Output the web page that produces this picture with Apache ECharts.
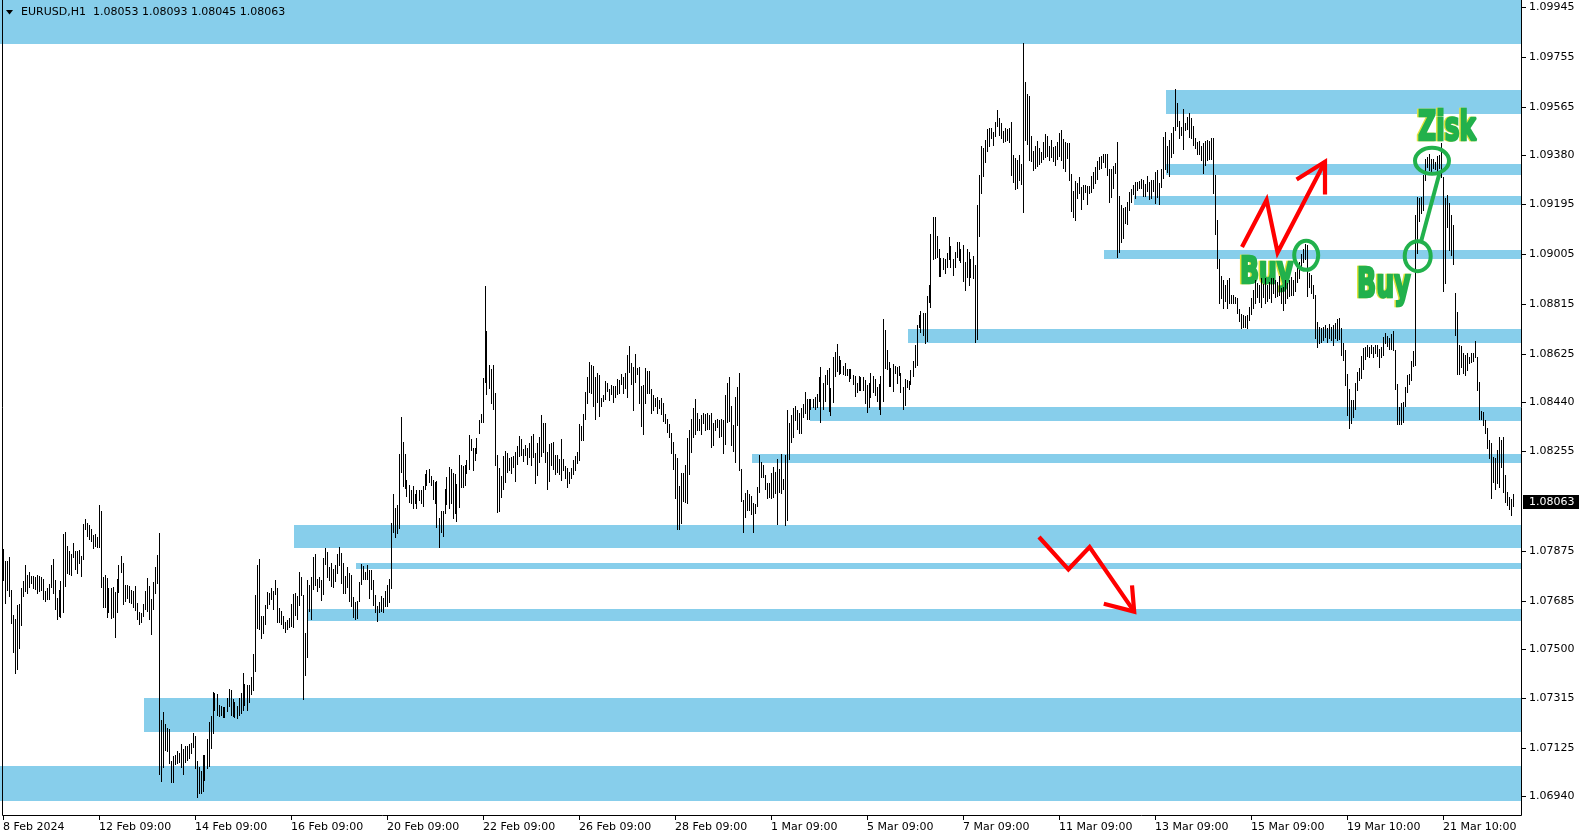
<!DOCTYPE html>
<html>
<head>
<meta charset="utf-8">
<script src="https://cdn.jsdelivr.net/npm/echarts@6/dist/echarts.min.js"></script>
<style>html,body{margin:0;padding:0;background:#fff;overflow:hidden}#c{width:1585px;height:840px}</style>
</head>
<body>
<div id="c"></div>
<script>
// ---------------- DATA ----------------
const symbolTitle = "EURUSD,H1";
const lastBar = { open: 1.08053, high: 1.08093, low: 1.08045, close: 1.08063 };

// H1 bar highs, one per hour (weekends skipped), from 8 Feb 2024 09:00
const highs = [
1.07882,1.07837,1.07837,1.07852,1.07726,1.07631,1.07617,1.07669,1.07673,1.07735,
1.07760,1.07821,1.07783,1.07793,1.07779,1.07779,1.07774,1.07783,1.07779,1.07774,
1.07768,1.07722,1.07735,1.07749,1.07821,1.07844,1.07764,1.07694,1.07726,1.07760,
1.07939,1.07946,1.07895,1.07875,1.07863,1.07905,1.07875,1.07875,1.07879,1.07856,
1.07978,1.07995,1.07983,1.07974,1.07957,1.07936,1.07939,1.07929,1.08050,1.08027,
1.07776,1.07783,1.07772,1.07733,1.07735,1.07739,1.07720,1.07768,1.07821,1.07856,
1.07828,1.07745,1.07745,1.07741,1.07725,1.07722,1.07741,1.07678,1.07644,1.07640,
1.07673,1.07722,1.07772,1.07741,1.07692,1.07758,1.07814,1.07860,1.07945,1.07231,
1.07263,1.07216,1.07200,1.07197,1.07075,1.07094,1.07098,1.07115,1.07107,1.07140,
1.07120,1.07134,1.07134,1.07140,1.07145,1.07183,1.07170,1.07076,1.07053,1.07038,
1.07098,1.07098,1.07158,1.07224,1.07246,1.07337,1.07335,1.07330,1.07288,1.07284,
1.07282,1.07282,1.07317,1.07349,1.07345,1.07311,1.07301,1.07284,1.07316,1.07335,
1.07411,1.07368,1.07364,1.07364,1.07396,1.07482,1.07707,1.07821,1.07844,1.07627,
1.07627,1.07669,1.07718,1.07713,1.07735,1.07723,1.07764,1.07735,1.07656,1.07647,
1.07627,1.07605,1.07612,1.07618,1.07672,1.07710,1.07716,1.07703,1.07793,1.07776,
1.07707,1.07561,1.07764,1.07745,1.07776,1.07853,1.07865,1.07768,1.07776,1.07764,
1.07849,1.07887,1.07872,1.07815,1.07828,1.07806,1.07821,1.07863,1.07889,1.07866,
1.07828,1.07779,1.07815,1.07792,1.07784,1.07700,1.07680,1.07686,1.07755,1.07826,
1.07817,1.07796,1.07821,1.07801,1.07802,1.07764,1.07707,1.07665,1.07681,1.07703,
1.07694,1.07722,1.07745,1.07770,1.07983,1.08091,1.08039,1.08049,1.08243,1.08384,
1.08289,1.08244,1.08145,1.08126,1.08107,1.08122,1.08091,1.08107,1.08107,1.08107,
1.08122,1.08167,1.08183,1.08186,1.08160,1.08145,1.08136,1.08141,1.08001,1.08027,
1.08027,1.08110,1.08157,1.08194,1.08186,1.08170,1.08167,1.08129,1.08240,1.08202,
1.08199,1.08202,1.08221,1.08316,1.08301,1.08268,1.08265,1.08306,1.08373,1.08396,
1.08534,1.08883,1.08712,1.08582,1.08567,1.08582,1.08475,1.08240,1.08189,1.08160,
1.08236,1.08255,1.08249,1.08227,1.08233,1.08237,1.08252,1.08275,1.08313,1.08301,
1.08263,1.08278,1.08268,1.08284,1.08313,1.08320,1.08249,1.08287,1.08310,1.08392,
1.08363,1.08363,1.08252,1.08282,1.08284,1.08289,1.08242,1.08240,1.08224,1.08301,
1.08224,1.08198,1.08191,1.08174,1.08191,1.08221,1.08237,1.08252,1.08360,1.08350,
1.08398,1.08480,1.08538,1.08594,1.08583,1.08579,1.08538,1.08551,1.08545,1.08456,
1.08469,1.08523,1.08513,1.08491,1.08507,1.08503,1.08504,1.08530,1.08526,1.08549,
1.08538,1.08551,1.08621,1.08655,1.08589,1.08576,1.08625,1.08573,1.08576,1.08504,
1.08507,1.08570,1.08560,1.08560,1.08490,1.08469,1.08456,1.08462,1.08450,1.08456,
1.08437,1.08395,1.08376,1.08357,1.08325,1.08291,1.08244,1.08230,1.08123,1.08170,
1.08170,1.08202,1.08304,1.08335,1.08376,1.08420,1.08452,1.08399,1.08376,1.08392,
1.08399,1.08396,1.08399,1.08392,1.08399,1.08363,1.08373,1.08376,1.08373,1.08376,
1.08373,1.08469,1.08516,1.08538,1.08427,1.08354,1.08462,1.08498,1.08554,1.08186,
1.08069,1.08097,1.08107,1.08092,1.08084,1.08056,1.08054,1.08120,1.08240,1.08212,
1.08202,1.08164,1.08135,1.08132,1.08170,1.08196,1.08177,1.08224,1.08186,1.08244,
1.08150,1.08240,1.08411,1.08363,1.08392,1.08418,1.08427,1.08411,1.08401,1.08420,
1.08434,1.08479,1.08453,1.08453,1.08453,1.08453,1.08460,1.08472,1.08536,1.08574,
1.08513,1.08545,1.08564,1.08570,1.08494,1.08612,1.08631,1.08663,1.08617,1.08602,
1.08579,1.08589,1.08566,1.08568,1.08568,1.08545,1.08541,1.08513,1.08541,1.08536,
1.08536,1.08526,1.08507,1.08513,1.08551,1.08541,1.08528,1.08498,1.08510,1.08541,
1.08757,1.08716,1.08640,1.08593,1.08570,1.08585,1.08580,1.08576,1.08579,1.08551,
1.08498,1.08529,1.08526,1.08522,1.08564,1.08598,1.08659,1.08735,1.08773,1.08788,
1.08782,1.08782,1.08845,1.08887,1.09081,1.09145,1.09145,1.09074,1.09024,1.08989,
1.08989,1.08985,1.09010,1.09069,1.09036,1.08986,1.09012,1.09050,1.09050,1.09024,
1.09040,1.08974,1.09024,1.09012,1.08986,1.08998,1.08963,1.09192,1.09306,1.09416,
1.09410,1.09439,1.09481,1.09484,1.09484,1.09468,1.09507,1.09553,1.09522,1.09503,
1.09474,1.09484,1.09481,1.09484,1.09507,1.09382,1.09369,1.09363,1.09382,1.09348,
1.09807,1.09659,1.09614,1.09607,1.09455,1.09397,1.09416,1.09435,1.09408,1.09395,
1.09430,1.09462,1.09455,1.09416,1.09439,1.09414,1.09416,1.09430,1.09467,1.09477,
1.09443,1.09430,1.09429,1.09427,1.09310,1.09245,1.09283,1.09274,1.09300,1.09259,
1.09268,1.09268,1.09265,1.09265,1.09302,1.09316,1.09338,1.09359,1.09376,1.09380,
1.09386,1.09386,1.09386,1.09329,1.09328,1.09340,1.09352,1.09430,1.09226,1.09192,
1.09179,1.09185,1.09202,1.09240,1.09253,1.09268,1.09278,1.09281,1.09284,1.09291,
1.09287,1.09270,1.09302,1.09281,1.09287,1.09287,1.09319,1.09325,1.09277,1.09329,
1.09452,1.09468,1.09416,1.09439,1.09467,1.09487,1.09633,1.09581,1.09512,1.09490,
1.09557,1.09505,1.09528,1.09541,1.09521,1.09492,1.09445,1.09432,1.09435,1.09417,
1.09428,1.09435,1.09439,1.09435,1.09445,1.09445,1.09305,1.09134,1.08988,1.08921,
1.08906,1.08887,1.08906,1.08912,1.08851,1.08849,1.08842,1.08836,1.08794,1.08775,
1.08772,1.08769,1.08772,1.08804,1.08838,1.08868,1.08908,1.08893,1.08889,1.08912,
1.08890,1.08912,1.08887,1.08899,1.08912,1.08912,1.08908,1.08899,1.08921,1.08874,
1.08878,1.08906,1.08893,1.08908,1.08918,1.08906,1.08937,1.08956,1.08975,1.09007,
1.09026,1.09045,1.09039,1.08931,1.08925,1.08887,1.08849,1.08747,1.08728,1.08722,
1.08728,1.08734,1.08722,1.08737,1.08728,1.08734,1.08741,1.08756,1.08760,1.08722,
1.08665,1.08639,1.08550,1.08493,1.08449,1.08451,1.08515,1.08557,1.08570,1.08616,
1.08646,1.08652,1.08658,1.08652,1.08658,1.08652,1.08658,1.08658,1.08642,1.08652,
1.08688,1.08705,1.08693,1.08684,1.08700,1.08713,1.08639,1.08512,1.08424,1.08439,
1.08443,1.08500,1.08544,1.08550,1.08599,1.08637,1.09153,1.09223,1.09220,1.09223,
1.09306,1.09365,1.09375,1.09384,1.09366,1.09365,1.09356,1.09378,1.09382,1.09426,
1.09297,1.09217,1.09229,1.09198,1.09153,1.09115,1.08855,1.08785,1.08658,1.08655,
1.08627,1.08620,1.08627,1.08614,1.08627,1.08627,1.08675,1.08614,1.08519,1.08408,
1.08405,1.08373,1.08341,1.08297,1.08284,1.08231,1.08227,1.08259,1.08309,1.08297,
1.08309,1.08163,1.08100,1.08081,1.08071,1.08093
];

// H1 bar lows
const lows = [
1.07764,1.07678,1.07726,1.07703,1.07602,1.07491,1.07409,1.07425,1.07507,1.07593,
1.07703,1.07724,1.07716,1.07739,1.07752,1.07733,1.07730,1.07716,1.07722,1.07726,
1.07692,1.07686,1.07691,1.07691,1.07736,1.07716,1.07655,1.07615,1.07627,1.07625,
1.07644,1.07743,1.07791,1.07788,1.07783,1.07851,1.07805,1.07790,1.07830,1.07781,
1.07843,1.07959,1.07932,1.07922,1.07913,1.07887,1.07892,1.07891,1.07891,1.07736,
1.07660,1.07663,1.07625,1.07644,1.07618,1.07622,1.07549,1.07644,1.07720,1.07796,
1.07672,1.07686,1.07694,1.07682,1.07678,1.07663,1.07651,1.07615,1.07597,1.07606,
1.07627,1.07654,1.07648,1.07617,1.07560,1.07655,1.07714,1.07754,1.07026,1.07000,
1.07051,1.07117,1.07112,1.07069,1.06997,1.06997,1.07063,1.07069,1.07073,1.07054,
1.07026,1.07073,1.07079,1.07085,1.07106,1.07129,1.07047,1.06939,1.06954,1.06954,
1.06962,1.07002,1.07049,1.07056,1.07125,1.07183,1.07269,1.07250,1.07246,1.07250,
1.07243,1.07243,1.07266,1.07284,1.07252,1.07247,1.07243,1.07240,1.07250,1.07259,
1.07269,1.07288,1.07269,1.07301,1.07330,1.07345,1.07419,1.07580,1.07577,1.07544,
1.07561,1.07596,1.07658,1.07672,1.07691,1.07653,1.07710,1.07605,1.07603,1.07595,
1.07580,1.07567,1.07576,1.07584,1.07590,1.07584,1.07631,1.07615,1.07669,1.07707,
1.07311,1.07402,1.07472,1.07647,1.07615,1.07730,1.07745,1.07723,1.07736,1.07688,
1.07710,1.07827,1.07776,1.07764,1.07741,1.07738,1.07761,1.07792,1.07821,1.07754,
1.07716,1.07716,1.07738,1.07685,1.07666,1.07624,1.07615,1.07620,1.07685,1.07749,
1.07768,1.07768,1.07768,1.07697,1.07731,1.07669,1.07643,1.07609,1.07641,1.07647,
1.07642,1.07666,1.07666,1.07680,1.07735,1.07948,1.07929,1.07944,1.07963,1.08176,
1.08122,1.08115,1.08084,1.08062,1.08056,1.08037,1.08058,1.08039,1.08068,1.08058,
1.08046,1.08110,1.08126,1.08136,1.08126,1.08071,1.08056,1.07967,1.07891,1.07948,
1.07933,1.08020,1.08053,1.08037,1.08056,1.08001,1.08020,1.07990,1.08043,1.08119,
1.08119,1.08126,1.08172,1.08186,1.08259,1.08183,1.08221,1.08246,1.08325,1.08367,
1.08367,1.08519,1.08473,1.08496,1.08439,1.08416,1.08202,1.08024,1.08028,1.08081,
1.08110,1.08138,1.08176,1.08183,1.08172,1.08195,1.08142,1.08205,1.08236,1.08240,
1.08217,1.08240,1.08205,1.08231,1.08202,1.08233,1.08132,1.08164,1.08214,1.08237,
1.08252,1.08214,1.08109,1.08142,1.08202,1.08185,1.08167,1.08176,1.08167,1.08145,
1.08183,1.08151,1.08119,1.08132,1.08153,1.08167,1.08183,1.08210,1.08221,1.08297,
1.08299,1.08378,1.08439,1.08478,1.08477,1.08427,1.08377,1.08441,1.08390,1.08427,
1.08447,1.08453,1.08485,1.08450,1.08472,1.08443,1.08462,1.08472,1.08477,1.08509,
1.08475,1.08494,1.08462,1.08557,1.08510,1.08411,1.08519,1.08547,1.08439,1.08351,
1.08320,1.08439,1.08475,1.08477,1.08401,1.08411,1.08427,1.08401,1.08418,1.08396,
1.08371,1.08361,1.08326,1.08310,1.08249,1.08186,1.08078,1.07958,1.07957,1.07983,
1.08066,1.08063,1.08059,1.08168,1.08253,1.08307,1.08320,1.08335,1.08335,1.08319,
1.08363,1.08335,1.08338,1.08338,1.08272,1.08278,1.08335,1.08348,1.08310,1.08314,
1.08249,1.08281,1.08367,1.08370,1.08278,1.08257,1.08212,1.08354,1.08183,1.08066,
1.07948,1.08003,1.08031,1.08031,1.08016,1.07948,1.08018,1.08046,1.08101,1.08158,
1.08158,1.08109,1.08075,1.08082,1.08075,1.08082,1.08094,1.07977,1.08098,1.08097,
1.08109,1.07974,1.07993,1.08225,1.08290,1.08307,1.08373,1.08339,1.08325,1.08325,
1.08383,1.08399,1.08377,1.08377,1.08415,1.08424,1.08415,1.08424,1.08446,1.08367,
1.08414,1.08447,1.08509,1.08409,1.08392,1.08443,1.08542,1.08561,1.08548,1.08551,
1.08547,1.08545,1.08545,1.08523,1.08534,1.08509,1.08466,1.08479,1.08488,1.08488,
1.08488,1.08439,1.08405,1.08424,1.08462,1.08479,1.08468,1.08447,1.08414,1.08395,
1.08446,1.08570,1.08566,1.08504,1.08504,1.08485,1.08551,1.08515,1.08545,1.08481,
1.08414,1.08430,1.08498,1.08490,1.08509,1.08542,1.08576,1.08583,1.08726,1.08710,
1.08697,1.08668,1.08675,1.08824,1.08805,1.08986,1.08989,1.08995,1.08922,1.08922,
1.08947,1.08934,1.08957,1.08986,1.08957,1.08925,1.08955,1.08993,1.08982,1.08974,
1.08904,1.08868,1.08919,1.08887,1.08916,1.08913,1.08672,1.08682,1.09074,1.09239,
1.09303,1.09357,1.09399,1.09416,1.09448,1.09420,1.09455,1.09493,1.09458,1.09446,
1.09433,1.09437,1.09439,1.09433,1.09306,1.09281,1.09253,1.09258,1.09287,1.09272,
1.09166,1.09439,1.09424,1.09363,1.09361,1.09325,1.09334,1.09342,1.09347,1.09354,
1.09367,1.09376,1.09378,1.09363,1.09373,1.09361,1.09344,1.09366,1.09378,1.09363,
1.09334,1.09323,1.09369,1.09287,1.09170,1.09145,1.09135,1.09220,1.09236,1.09177,
1.09215,1.09243,1.09196,1.09236,1.09243,1.09258,1.09277,1.09291,1.09328,1.09331,
1.09357,1.09335,1.09306,1.09205,1.09224,1.09258,1.09312,1.08993,1.09014,1.09052,
1.09065,1.09125,1.09119,1.09173,1.09202,1.09232,1.09220,1.09249,1.09255,1.09255,
1.09226,1.09227,1.09245,1.09216,1.09220,1.09245,1.09201,1.09224,1.09194,1.09262,
1.09293,1.09328,1.09319,1.09303,1.09373,1.09391,1.09477,1.09494,1.09448,1.09458,
1.09405,1.09477,1.09481,1.09449,1.09445,1.09420,1.09407,1.09385,1.09385,1.09362,
1.09314,1.09343,1.09362,1.09366,1.09365,1.09236,1.09081,1.08953,1.08819,1.08836,
1.08798,1.08827,1.08798,1.08817,1.08819,1.08819,1.08817,1.08779,1.08751,1.08722,
1.08728,1.08728,1.08725,1.08753,1.08776,1.08798,1.08819,1.08842,1.08823,1.08804,
1.08842,1.08819,1.08827,1.08836,1.08823,1.08855,1.08842,1.08845,1.08851,1.08817,
1.08791,1.08819,1.08836,1.08845,1.08849,1.08849,1.08864,1.08899,1.08912,1.08944,
1.08975,1.08988,1.08845,1.08880,1.08855,1.08836,1.08687,1.08652,1.08665,1.08671,
1.08677,1.08690,1.08671,1.08687,1.08677,1.08658,1.08684,1.08677,1.08680,1.08620,
1.08601,1.08506,1.08392,1.08341,1.08363,1.08385,1.08417,1.08487,1.08525,1.08535,
1.08566,1.08604,1.08616,1.08614,1.08627,1.08614,1.08627,1.08616,1.08576,1.08614,
1.08620,1.08667,1.08655,1.08642,1.08642,1.08639,1.08493,1.08358,1.08358,1.08358,
1.08366,1.08426,1.08481,1.08512,1.08525,1.08578,1.08582,1.09010,1.09132,1.09160,
1.09172,1.09286,1.09337,1.09325,1.09318,1.09331,1.09327,1.09314,1.09331,1.09299,
1.08865,1.08893,1.09109,1.09020,1.09001,1.08969,1.08696,1.08550,1.08550,1.08576,
1.08553,1.08544,1.08563,1.08589,1.08595,1.08599,1.08614,1.08487,1.08379,1.08379,
1.08354,1.08322,1.08265,1.08227,1.08075,1.08138,1.08109,1.08132,1.08119,1.08195,
1.08100,1.08062,1.08049,1.08033,1.08011,1.08045
];

// time-scale labels (one every 48 H1 bars)
const xLabels = ["8 Feb 2024","12 Feb 09:00","14 Feb 09:00","16 Feb 09:00","20 Feb 09:00","22 Feb 09:00",
  "26 Feb 09:00","28 Feb 09:00","1 Mar 09:00","5 Mar 09:00","7 Mar 09:00","11 Mar 09:00",
  "13 Mar 09:00","15 Mar 09:00","19 Mar 10:00","21 Mar 10:00"];
const barsPerLabel = 48;
const emptySlotsRight = 4;

// price-scale labels
const yTicks = [1.06940,1.07125,1.07315,1.07500,1.07685,1.07875,1.08255,1.08440,1.08625,
  1.08815,1.09005,1.09195,1.09380,1.09565,1.09755,1.09945];
const yMin = 1.06866, yMax = 1.09972;

// support / resistance zones: first bar index, upper price, lower price
const zoneStart = [0, 582, 582, 566, 551, 453, 404, 375, 146, 177, 153, 71, 0];
const zoneHigh  = [1.09972,1.09629,1.09348,1.09226,1.09020,1.08720,1.08423,1.08244,1.07974,1.07829,1.07654,1.07315,1.07056];
const zoneLow   = [1.09806,1.09537,1.09307,1.09193,1.08987,1.08668,1.08371,1.08211,1.07887,1.07807,1.07609,1.07187,1.06924];

// hand-drawn annotations, anchored at [bar index, price]
const upArrowPath   = [[619.5,1.09032],[631.8,1.09211],[637.3,1.09011],[661,1.09356]];
const upArrowHead   = [[646.8,1.09289],[661,1.09356],[661,1.09232]];
const downArrowPath = [[518,1.07928],[532.7,1.07805],[543.3,1.07890],[565.6,1.07644]];
const downArrowHead = [[550.4,1.07674],[565.6,1.07644],[564.5,1.07744]];
const circleCenters = [[651.6,1.09000],[714.5,1.09360],[707.35,1.08997]];
const greenLink     = [[709,1.09052],[718.15,1.09310]];
const noteTexts     = ["Buy","Buy","Zisk"];
const noteAnchors   = [[618.5,1.08891],[677,1.08834],[707.5,1.09433]]; // left / baseline

// ---------------- STYLE ----------------
const GRID = { left: 2, top: 0, width: 1520, height: 816 };
const ZONE_COLOR = '#87CEEB';
const RED = '#FF0000';
const GREEN = '#22B14C';
const FONT = '"DejaVu Sans", Verdana, sans-serif';
const circleRadii = [[12,14.5],[17,13],[13,15]];
const noteFont = [{size:38, sx:0.66},{size:40, sx:0.63},{size:41, sx:0.61}];

const nSlots = highs.length + emptySlotsRight;
const categories = Array.from({ length: nSlots }, (_, i) => i);
const barData = highs.map((h, i) => [i, h, lows[i]]);
const zoneData = zoneStart.map((s, k) => [s, zoneHigh[k], zoneLow[k]]);

const chart = echarts.init(document.getElementById('c'), null, { renderer: 'canvas' });

function makeP(api) {
  const bw = api.size([1, 0])[0];
  return a => {
    const i0 = Math.floor(a[0]);
    const c = api.coord([i0, a[1]]);
    return [c[0] + (a[0] - i0) * bw, c[1]];
  };
}

function renderBar(params, api) {
  const i = api.value(0);
  const t = api.coord([i, api.value(1)]);
  const b = api.coord([i, api.value(2)]);
  const x = Math.floor(t[0]) + 0.5;
  return { type: 'line', shape: { x1: x, y1: Math.round(t[1]), x2: x, y2: Math.round(b[1]) + 1 },
    style: { stroke: '#000', lineWidth: 1 } };
}

function renderZone(params, api) {
  const cs = params.coordSys;
  const s = api.value(0);
  const p1 = api.coord([s, api.value(1)]);
  const p2 = api.coord([s, api.value(2)]);
  const bw = api.size([1, 0])[0];
  const x0 = s === 0 ? 0 : Math.round(p1[0] - bw / 2);
  const y0 = Math.max(0, Math.round(p1[1]));
  return { type: 'rect', shape: { x: x0, y: y0, width: cs.x + cs.width - 1 - x0, height: Math.round(p2[1]) - y0 },
    style: { fill: ZONE_COLOR } };
}

function renderNotes(params, api) {
  const P = makeP(api);
  const children = [];
  noteTexts.forEach((t, k) => {
    const p = P(noteAnchors[k]);
    const f = noteFont[k];
    const y = p[1] - 0.297 * f.size;
    const base = { text: t, fontSize: f.size, fontWeight: 'bold', fontFamily: FONT, align: 'left', verticalAlign: 'middle', lineWidth: 2.6 };
    children.push({ type: 'text', x: p[0] - 1.5, y: y, scaleX: f.sx, style: Object.assign({}, base, { fill: '#E2E23C', stroke: '#E2E23C' }) });
    children.push({ type: 'text', x: p[0], y: y, scaleX: f.sx, style: Object.assign({}, base, { fill: GREEN, stroke: GREEN }) });
  });
  return { type: 'group', children };
}

function renderShapes(params, api) {
  const P = makeP(api);
  const children = [];
  const red = { stroke: RED, lineWidth: 4.2, fill: 'none', lineJoin: 'miter', lineCap: 'butt' };
  [[upArrowPath, upArrowHead], [downArrowPath, downArrowHead]].forEach(ar => {
    children.push({ type: 'polyline', shape: { points: ar[0].map(P) }, style: Object.assign({}, red) });
    children.push({ type: 'polyline', shape: { points: ar[1].map(P) }, style: Object.assign({}, red) });
  });
  children.push({ type: 'polyline', shape: { points: greenLink.map(P) },
    style: { stroke: GREEN, lineWidth: 4, fill: 'none' } });
  circleCenters.forEach((c, k) => {
    const p = P(c);
    children.push({ type: 'ellipse', shape: { cx: p[0], cy: p[1], rx: circleRadii[k][0], ry: circleRadii[k][1] },
      style: { stroke: GREEN, lineWidth: 4, fill: 'none' } });
  });
  return { type: 'group', children };
}

function renderPriceTag(params, api) {
  const cs = params.coordSys;
  const y = Math.round(api.coord([api.value(0), api.value(1)])[1]);
  const x = cs.x + cs.width;
  return { type: 'group', children: [
    { type: 'rect', shape: { x: x + 1, y: y - 7, width: 56, height: 14 }, style: { fill: '#000' } },
    { type: 'text', x: x + 7, y: y, style: { text: api.value(1).toFixed(5), fill: '#fff', fontSize: 11,
      fontFamily: FONT, align: 'left', verticalAlign: 'middle' } }
  ] };
}

const isLabel = idx => idx % barsPerLabel === 0 && idx / barsPerLabel < xLabels.length;
const header = symbolTitle + '  ' + [lastBar.open, lastBar.high, lastBar.low, lastBar.close].map(v => v.toFixed(5)).join(' ');
const gx0 = GRID.left + 0.5, gx1 = GRID.left + GRID.width - 0.5, gy1 = GRID.top + GRID.height - 0.5;

chart.setOption({
  animation: false,
  backgroundColor: '#fff',
  grid: { left: GRID.left, top: GRID.top, width: GRID.width, height: GRID.height, show: false },
  xAxis: {
    type: 'category', data: categories, boundaryGap: true,
    axisLine: { show: false },
    axisTick: { show: true, alignWithLabel: true, interval: isLabel, length: 4, lineStyle: { color: '#000' } },
    axisLabel: { interval: isLabel, formatter: (v, idx) => isLabel(idx) ? xLabels[idx / barsPerLabel] : '',
      align: 'left', margin: 6, color: '#000', fontSize: 11, fontFamily: FONT, hideOverlap: false },
    splitLine: { show: false }
  },
  yAxis: {
    type: 'value', position: 'right', min: yMin, max: yMax, scale: true,
    axisLine: { show: false },
    axisTick: { show: true, customValues: yTicks, length: 4, lineStyle: { color: '#000' } },
    axisLabel: { customValues: yTicks, formatter: v => v.toFixed(5), margin: 7, color: '#000', fontSize: 11, fontFamily: FONT },
    splitLine: { show: false }
  },
  series: [
    { type: 'custom', name: 'zones', z: 1, renderItem: renderZone, data: zoneData, encode: { x: 0, y: [1, 2] }, silent: true },
    { type: 'custom', name: 'notes', z: 2, renderItem: renderNotes, data: [[0, yMin]], encode: { x: 0, y: 1 }, silent: true },
    { type: 'custom', name: 'EURUSD', z: 3, renderItem: renderBar, data: barData, encode: { x: 0, y: [1, 2] }, silent: true },
    { type: 'custom', name: 'shapes', z: 4, renderItem: renderShapes, data: [[0, yMin]], encode: { x: 0, y: 1 }, silent: true },
    { type: 'custom', name: 'price', z: 5, renderItem: renderPriceTag, data: [[highs.length - 1, lastBar.close]], encode: { x: 0, y: 1 }, silent: true, clip: false }
  ],
  graphic: [
    { type: 'polyline', z: 100, silent: true, shape: { points: [[gx0, 0], [gx0, gy1], [gx1, gy1], [gx1, 0]] },
      style: { stroke: '#000', lineWidth: 1, fill: 'none' } },
    { type: 'polygon', z: 100, silent: true, shape: { points: [[6, 10], [13, 10], [9.5, 14.5]] }, style: { fill: '#000' } },
    { type: 'text', z: 100, silent: true, left: 21, top: 7, style: { text: header, fill: '#000', fontSize: 11, fontFamily: FONT } }
  ]
});
</script>
</body>
</html>
